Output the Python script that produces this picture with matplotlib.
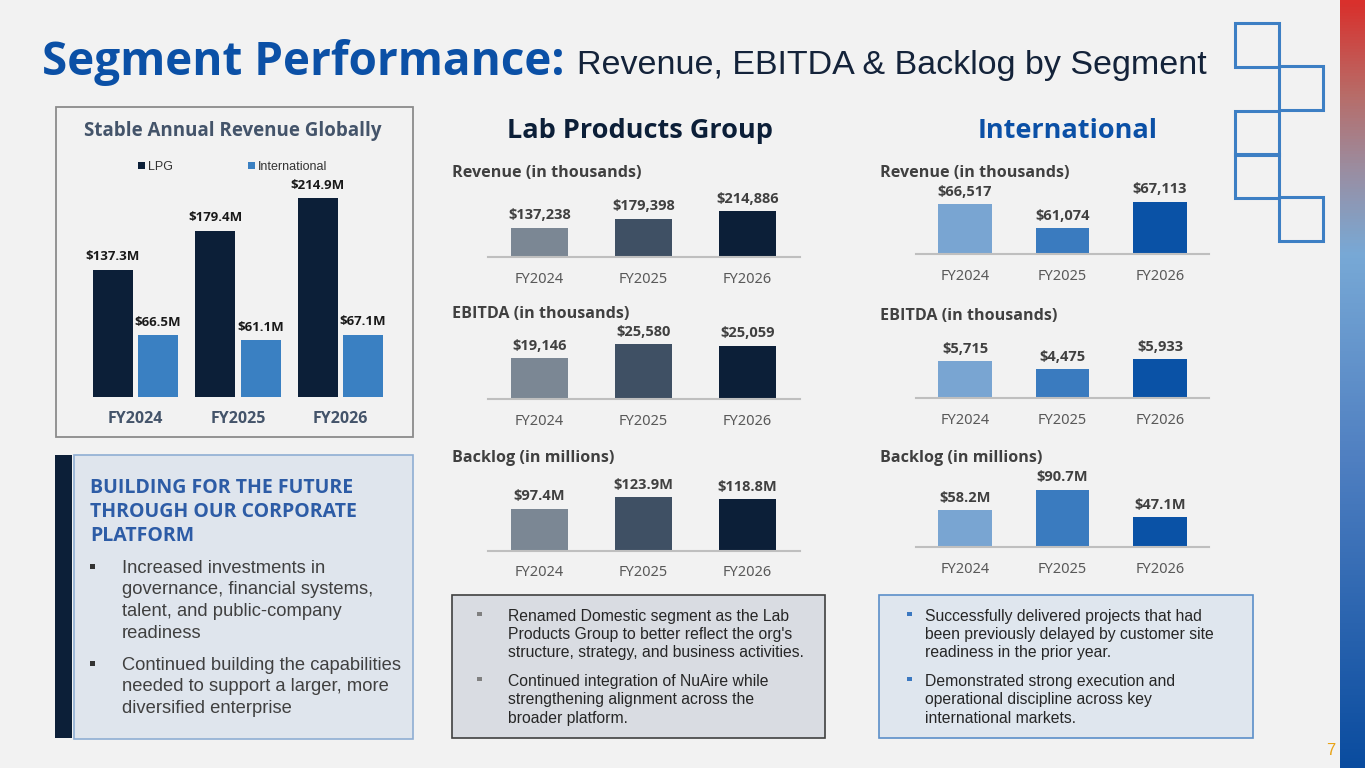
import numpy as np
import matplotlib
matplotlib.use("Agg")
import matplotlib.pyplot as plt
from matplotlib.patches import Rectangle
from matplotlib.colors import LinearSegmentedColormap

W, H = 1365, 768

years = ["FY2024", "FY2025", "FY2026"]
global_lpg = [137.3, 179.4, 214.9]
global_intl = [66.5, 61.1, 67.1]
lpg_revenue = [137238, 179398, 214886]
lpg_ebitda = [19146, 25580, 25059]
lpg_backlog = [97.4, 123.9, 118.8]
intl_revenue = [66517, 61074, 67113]
intl_ebitda = [5715, 4475, 5933]
intl_backlog = [58.2, 90.7, 47.1]

corp_heading = ["BUILDING FOR THE FUTURE", "THROUGH OUR CORPORATE", "PLATFORM"]
corp_bullets = [
    ["Increased investments in", "governance, financial systems,",
     "talent, and public-company", "readiness"],
    ["Continued building the capabilities", "needed to support a larger, more",
     "diversified enterprise"],
]
lpg_notes = [
    ["Renamed Domestic segment as the Lab", "Products Group to better reflect the org's",
     "structure, strategy, and business activities."],
    ["Continued integration of NuAire while", "strengthening alignment across the",
     "broader platform."],
]
intl_notes = [
    ["Successfully delivered projects that had", "been previously delayed by customer site",
     "readiness in the prior year."],
    ["Demonstrated strong execution and", "operational discipline across key",
     "international markets."],
]

PLEX = "Noto Sans"
PLEXB = "Open Sans"
ARIAL = "Liberation Sans"
BG = "#f2f2f2"
NAVY = "#0c1f38"
BLUE = "#0b50a6"
lpg_colors = ["#7b8794", "#3f5064", "#0c1f38"]
intl_colors = ["#79a5d2", "#3a7bbf", "#0a52a6"]

fig = plt.figure(figsize=(W / 100, H / 100), dpi=100, facecolor=BG)

# overlay in pixel coordinates for boxes and free text
ov = fig.add_axes([0, 0, 1, 1])
ov.set_xlim(0, W)
ov.set_ylim(H, 0)
ov.axis("off")


def px_axes(x0, y0, x1, y1):
    ax = fig.add_axes([x0 / W, 1 - y1 / H, (x1 - x0) / W, (y1 - y0) / H])
    ax.set_facecolor("none")
    return ax


# title
ov.text(42, 75, "Segment Performance:", fontsize=33, fontweight="bold",
        color=BLUE, family=PLEXB, va="baseline")
ov.text(577, 74, "Revenue, EBITDA & Backlog by Segment", fontsize=24.5,
        color="#14233a", family=ARIAL, va="baseline")

# right gradient stripe
cmap = LinearSegmentedColormap.from_list("stripe", [
    (0.0, "#d9302c"), (0.12, "#b86c68"), (0.22, "#9a8ea2"),
    (0.33, "#78a9d6"), (0.6, "#4f7fc1"), (1.0, "#0a4c9f")])
st = px_axes(1340, 0, 1365, 768)
st.imshow(np.linspace(0, 1, 256)[:, None], aspect="auto", cmap=cmap)
st.axis("off")

# outlined squares
for sx, sy in [(1235, 23), (1279, 66), (1235, 111), (1235, 154), (1279, 197)]:
    ov.add_patch(Rectangle((sx, sy), 44, 44, fill=False, edgecolor="#3d7fc4", lw=2.2))

ov.text(1326, 755, "7", fontsize=12, color="#e8a317", family=ARIAL, va="baseline")

# ---- left: stable annual revenue globally
ov.add_patch(Rectangle((56, 107), 357, 330, facecolor="none", edgecolor="#8c8c8c", lw=1.3))
ov.text(233, 136, "Stable Annual Revenue Globally", fontsize=13.5, fontweight="bold",
        color="#44546a", family=PLEXB, ha="center", va="baseline")

ax = px_axes(84.25, 166, 391.75, 396.7)
x = np.arange(len(years))
b1 = ax.bar(x - 0.22, global_lpg, 0.39, color=NAVY, label="LPG")
b2 = ax.bar(x + 0.22, global_intl, 0.39, color="#3a80c2", label="International")
ax.set_xlim(-0.5, 2.5)
ax.set_ylim(0, 250)
for s in ax.spines.values():
    s.set_visible(False)
ax.set_yticks([])
ax.set_xticks(x, years)
ax.tick_params(axis="x", length=0, pad=10, labelsize=11.5, labelcolor="#44546a")
for lab in ax.get_xticklabels():
    lab.set_fontfamily(PLEXB)
    lab.set_fontweight("bold")
for bars, vals in [(b1, global_lpg), (b2, global_intl)]:
    for r, v in zip(bars, vals):
        ax.annotate(f"${v}M", (r.get_x() + r.get_width() / 2, v), xytext=(0, 7),
                    textcoords="offset points", ha="center", va="baseline",
                    fontsize=9.5, fontweight="bold", color="#1a1a1a", family=PLEXB,
                    annotation_clip=False)
ax.legend(loc="center", bbox_to_anchor=(233, 166.7), bbox_transform=ov.transData,
          ncol=2, frameon=False, prop={"family": ARIAL, "size": 9},
          handlelength=0.5, handleheight=0.5, handletextpad=0.3, columnspacing=6,
          labelcolor="#333333")

# ---- section headings
ov.text(640, 138, "Lab Products Group", fontsize=19.5, fontweight="bold",
        color=NAVY, family=PLEXB, ha="center", va="baseline")
ov.text(1068, 138, "International", fontsize=19.5, fontweight="bold",
        color=BLUE, family=PLEXB, ha="center", va="baseline")


def mini_chart(x0, x1, base, values, ylim, colors, labels, title, tx, ty):
    ov.text(tx, ty, title, fontsize=11.6, fontweight="bold", color="#404040",
            family=PLEXB, va="baseline")
    ax = px_axes(x0, base - 60, x1, base)
    ax.bar(range(len(values)), values, width=0.55, color=colors)
    ax.set_xlim(-0.5, 2.5)
    ax.set_ylim(*ylim)
    for s in ["top", "right", "left"]:
        ax.spines[s].set_visible(False)
    ax.spines["bottom"].set_color("#bfbfbf")
    ax.spines["bottom"].set_linewidth(1.5)
    ax.set_yticks([])
    ax.set_xticks(range(len(values)), years)
    ax.tick_params(axis="x", length=0, pad=10.5, labelsize=10.5, labelcolor="#595959")
    for lab in ax.get_xticklabels():
        lab.set_fontfamily(PLEX)
    for i, (v, t) in enumerate(zip(values, labels)):
        ax.annotate(t, (i, v), xytext=(0, 6), textcoords="offset points",
                    ha="center", va="baseline", fontsize=10.5, fontweight="bold",
                    color="#404040", family=PLEXB, annotation_clip=False)


thousands = lambda vals: [f"${v:,}" for v in vals]
millions = lambda vals: [f"${v}M" for v in vals]

mini_chart(487.5, 799.5, 257.3, lpg_revenue, (0, 279000), lpg_colors,
           thousands(lpg_revenue), "Revenue (in thousands)", 452, 176.7)
mini_chart(487.5, 799.5, 399.3, lpg_ebitda, (0, 27970), lpg_colors,
           thousands(lpg_ebitda), "EBITDA (in thousands)", 452, 318.3)
mini_chart(487.5, 799.5, 550.7, lpg_backlog, (0, 138.9), lpg_colors,
           millions(lpg_backlog), "Backlog (in millions)", 452, 461.7)
mini_chart(916.25, 1208.75, 254, intl_revenue, (55250, 68860), intl_colors,
           thousands(intl_revenue), "Revenue (in thousands)", 880, 176.7)
mini_chart(916.25, 1208.75, 398.3, intl_ebitda, (0, 9160), intl_colors,
           thousands(intl_ebitda), "EBITDA (in thousands)", 880, 320)
mini_chart(916.25, 1208.75, 547.3, intl_backlog, (0, 94.3), intl_colors,
           millions(intl_backlog), "Backlog (in millions)", 880, 461.7)

# ---- corporate platform box
ov.add_patch(Rectangle((55, 455), 17, 283, facecolor=NAVY, edgecolor="none"))
ov.add_patch(Rectangle((73.5, 454.5), 339, 284, facecolor="#dfe5ed",
                       edgecolor="#8faed3", lw=1.2))
for i, line in enumerate(corp_heading):
    ov.text(90, 493 + 24 * i, line, fontsize=14, fontweight="bold", color="#2d5ca6",
            family=PLEXB, va="baseline")
y = 572.7
for bullet in corp_bullets:
    ov.add_patch(Rectangle((90, y - 9), 5, 5, facecolor="#333333", edgecolor="none"))
    for line in bullet:
        ov.text(122, y, line, fontsize=13.2, color="#404040", family=ARIAL, va="baseline")
        y += 21.6
    y += 10.4


def note_box(x0, x1, fill, edge, bullet_color, bx, tx, notes):
    ov.add_patch(Rectangle((x0, 594.5), x1 - x0, 143.5, facecolor=fill,
                           edgecolor=edge, lw=1.2))
    y = 620.5
    for note in notes:
        ov.add_patch(Rectangle((bx, y - 9), 4.5, 4.5, facecolor=bullet_color, edgecolor="none"))
        for line in note:
            ov.text(tx, y, line, fontsize=11.3, color="#262626", family=ARIAL, va="baseline")
            y += 18.4
        y += 10.2


note_box(452, 825, "#d9dce2", "#404040", "#808080", 477, 507.5, lpg_notes)
note_box(879, 1253, "#dfe6ee", "#5b8fc9", "#3b78c0", 907, 925, intl_notes)

fig.savefig("out.png", dpi=100, facecolor=BG)
